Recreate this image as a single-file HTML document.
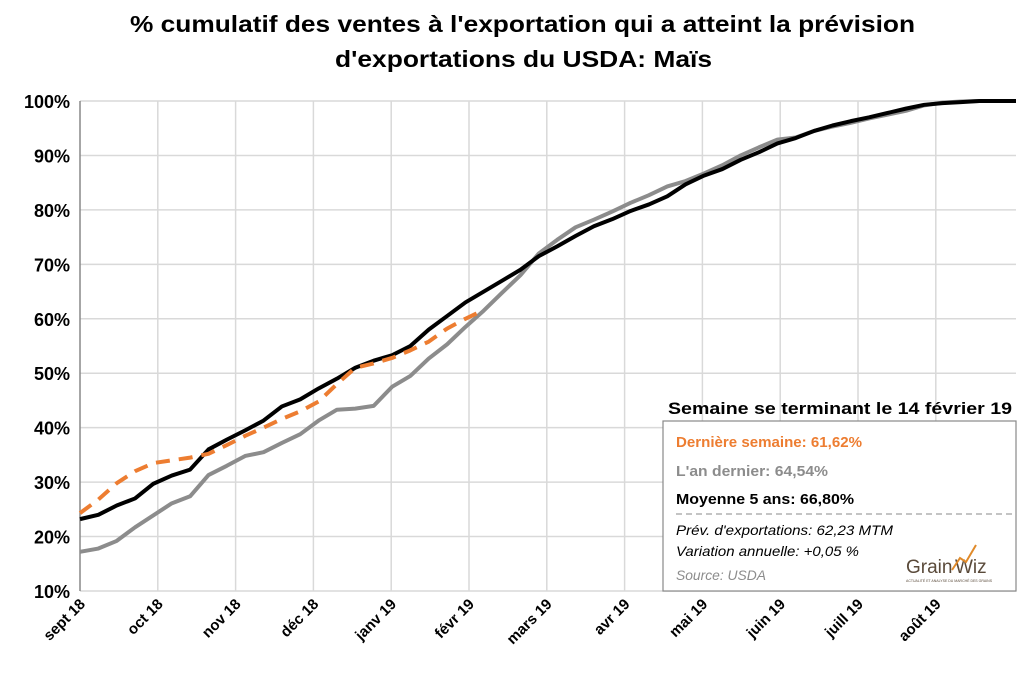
<!DOCTYPE html>
<html><head><meta charset="utf-8"><style>
body{margin:0;background:#fff;}
svg text{font-family:"Liberation Sans",Arial,sans-serif;}
</style></head><body>
<svg id="chart" width="1024" height="681" xmlns="http://www.w3.org/2000/svg">
<text x="130" y="32" textLength="785" lengthAdjust="spacingAndGlyphs" font-size="23" font-weight="bold" fill="#000">% cumulatif des ventes à l'exportation qui a atteint la prévision</text>
<text x="335" y="67" textLength="377" lengthAdjust="spacingAndGlyphs" font-size="23" font-weight="bold" fill="#000">d'exportations du USDA: Maïs</text>
<g id="grid"></g><g id="axes"></g><g id="series"></g>
<g>
<text x="668" y="414" textLength="344" lengthAdjust="spacingAndGlyphs" font-size="17" font-weight="bold" fill="#000">Semaine se terminant le 14 février 19</text>
<rect x="663" y="421" width="353" height="170" fill="#fff" stroke="#888" stroke-width="1.2"/>
<text x="676" y="447" textLength="186" lengthAdjust="spacingAndGlyphs" font-size="15" font-weight="bold" fill="#ed7d31">Dernière semaine: 61,62%</text>
<text x="676" y="476" textLength="152" lengthAdjust="spacingAndGlyphs" font-size="15" font-weight="bold" fill="#8c8c8c">L'an dernier: 64,54%</text>
<text x="676" y="504" textLength="178" lengthAdjust="spacingAndGlyphs" font-size="15" font-weight="bold" fill="#000">Moyenne 5 ans: 66,80%</text>
<line x1="676" y1="514" x2="1013" y2="514" stroke="#888" stroke-dasharray="6,4"/>
<text x="676" y="535" textLength="217" lengthAdjust="spacingAndGlyphs" font-size="14" font-style="italic" fill="#000">Prév. d'exportations: 62,23 MTM</text>
<text x="676" y="556" textLength="183" lengthAdjust="spacingAndGlyphs" font-size="14" font-style="italic" fill="#000">Variation annuelle: +0,05 %</text>
<text x="676" y="580" textLength="90" lengthAdjust="spacingAndGlyphs" font-size="14" font-style="italic" fill="#8c8c8c">Source: USDA</text>
<text x="906" y="573" font-size="19" fill="#5a4a3a">Grain</text>
<text x="955" y="573" font-size="19" fill="#5a4a3a">Wiz</text>
<polyline points="952,570 960,558 966,562 976,545" fill="none" stroke="#e08a2a" stroke-width="2"/>
<text x="906" y="582" font-size="3.5" fill="#5a4a3a">ACTUALITÉ ET ANALYSE DU MARCHÉ DES GRAINS</text>
</g>
</svg>
<script>
const monthLabels=["sept 18","oct 18","nov 18","déc 18","janv 19","févr 19","mars 19","avr 19","mai 19","juin 19","juill 19","août 19"];
const yTicks=[10,20,30,40,50,60,70,80,90,100];
const fiveYr=[23.2,24.0,25.7,27.0,29.7,31.2,32.3,36.0,37.8,39.5,41.3,43.9,45.2,47.2,49.0,51.0,52.3,53.3,55.0,58.0,60.5,63.0,65.0,67.0,69.0,71.5,73.3,75.2,77.0,78.3,79.8,81.0,82.5,84.7,86.3,87.5,89.2,90.6,92.2,93.2,94.5,95.5,96.3,97.0,97.8,98.6,99.3,99.6,99.8,100,100,100];
const lastYr=[17.2,17.8,19.2,21.7,23.9,26.1,27.4,31.3,33.0,34.8,35.5,37.2,38.8,41.3,43.3,43.5,44.0,47.5,49.5,52.7,55.3,58.5,61.5,64.8,68.0,72.0,74.5,76.8,78.2,79.7,81.3,82.7,84.3,85.3,86.7,88.2,90.0,91.5,92.9,93.3,94.5,95.3,96.0,96.8,97.5,98.2,99.2,99.7,99.9,100,100,100];
const current=[24.3,26.8,29.8,32.0,33.5,34.0,34.5,35.2,36.8,38.5,40.0,41.6,43.0,44.8,48.0,51.0,51.8,52.8,54.2,55.8,58.2,60.0,61.6];
const X0=80,X1=1016,Y100=101,Y10=591;
const weeks=51;
const xW=i=>X0+(X1-X0)*i/weeks;
const xM=m=>X0+77.8*m;
const y=v=>Y10-(v-10)*(Y10-Y100)/90;
const NS="http://www.w3.org/2000/svg";
function mk(t,a,p){const e=document.createElementNS(NS,t);for(const k in a)e.setAttribute(k,a[k]);p.appendChild(e);return e;}
const grid=document.getElementById('grid'),axes=document.getElementById('axes'),ser=document.getElementById('series');
yTicks.forEach(v=>{
 const l=mk('line',{x1:X0,x2:X1,y1:y(v),y2:y(v),stroke:'#d9d9d9','stroke-width':1.5},grid);
 
 
 const t=mk('text',{x:70,y:y(v)+7,'text-anchor':'end','font-size':18,'font-weight':'bold',fill:'#000'},axes);
 t.textContent=v+'%';
 
 
});
monthLabels.forEach((m,i)=>{
 const x=xM(i);
 if(i>0){const l=mk('line',{x1:x,x2:x,y1:Y100,y2:Y10,stroke:'#d9d9d9','stroke-width':1.5},grid);
 
 }
 const t=mk('text',{x:0,y:0,'text-anchor':'end','font-size':15,'font-weight':'bold',fill:'#000',transform:`translate(${x+6},${Y10+14}) rotate(-45)`},axes);
 t.textContent=m;
 
 
});
const ax=mk('line',{x1:X0,x2:X0,y1:Y100,y2:Y10,stroke:'#888','stroke-width':1.5},axes);


function line(d,c,dash,name){
 const p=mk('polyline',{points:d.map((v,i)=>xW(i)+','+y(v)).join(' '),fill:'none',stroke:c,'stroke-width':4,'stroke-linejoin':'round'},ser);
 if(dash)p.setAttribute('stroke-dasharray',dash);
 
 
}
line(lastYr,'#8c8c8c',null,'last-year-line');
line(fiveYr,'#000',null,'five-year-avg-line');
line(current,'#ed7d31','14,9','current-year-line');
</script>
</body></html>
